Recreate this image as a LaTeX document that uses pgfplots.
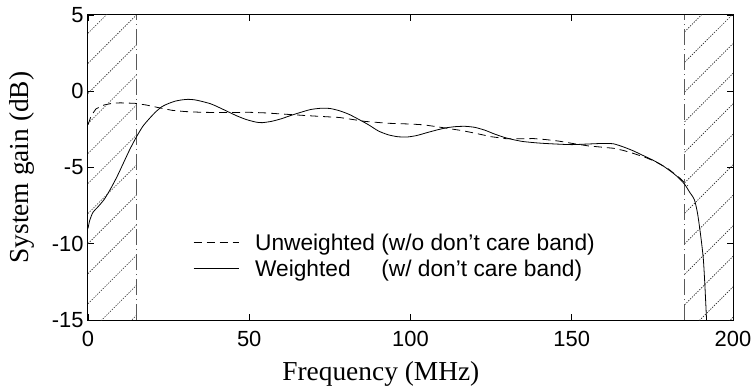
\documentclass[border=0pt]{standalone}
\usepackage{fontspec}
\setmainfont{Liberation Sans}
\newfontfamily\serif{Liberation Serif}
\usepackage{pgfplots}
\pgfplotsset{compat=1.18}
\tikzset{
  hatch/.style={black!85, line width=0.6bp, dash pattern=on 1.3bp off 1.3bp},
  dashdot/.style={gray!70!black, line width=1bp, dash pattern=on 16bp off 4bp on 1bp off 4bp},
}
\begin{document}
\begin{tikzpicture}
\useasboundingbox (-88bp,-71bp) rectangle (668bp,320bp);
\begin{axis}[
  at={(0,0)}, anchor=south west,
  scale only axis, width=645bp, height=305bp,
  xmin=0, xmax=200, ymin=-15, ymax=5,
  xtick={0,50,100,150,200}, xticklabels={0,50,100,150,200},
  ytick={-15,-10,-5,0,5}, yticklabels={-15,-10,-5,0,5},
  tick align=inside, major tick length=6bp,
  tick style={black, line width=0.8bp},
  axis line style={black, line width=1bp},
  ticklabel style={font=\fontsize{22}{26}\selectfont},
  xticklabel style={yshift=-8bp},
  yticklabel style={xshift=-1bp},
  xlabel={Frequency (MHz)},
  ylabel={System gain (dB)},
  xlabel style={font=\serif\fontsize{27.5}{32}\selectfont, at={(rel axis cs:0.454,-0.197)}, anchor=base},
  ylabel style={font=\serif\fontsize{27.5}{32}\selectfont, at={(rel axis cs:-0.103,0.5)}, anchor=center, rotate=0},
  legend style={draw=none, fill=none, at={(rel axis cs:0.163,0.29)}, anchor=north west,
    font=\fontsize{22.8}{26}\selectfont, inner sep=0pt, row sep=4bp, column sep=14bp},
  legend cell align=left,
  legend image code/.code={\draw[#1] (0bp,0bp) -- (45bp,0bp);},
]
% hatching (decoration)
\pgfplotsinvokeforeach{3.8,1.83,-0.14,-2.11,-4.08,-6.05,-8.02,-9.99,-11.96,-13.93,-15.9,-17.87}{
  \draw[hatch] (axis cs:0,#1) -- (axis cs:15,{#1+3.17});
}
\pgfplotsinvokeforeach{3.9,1.9,-0.05,-2.0,-4.0,-6.0,-8.0,-10.0,-12.0,-14.0,-16.0,-18.0}{
  \draw[hatch] (axis cs:185,#1) -- (axis cs:200,{#1+3.17});
}
\draw[dashdot] (axis cs:15,-15) -- (axis cs:15,5);
\draw[dashdot] (axis cs:185,-15) -- (axis cs:185,5);

\addplot[black, line width=0.8bp, dash pattern=on 8bp off 5bp] coordinates {
(0,-2.2) (1,-1.6) (2.5,-1.15) (5,-0.9) (7.5,-0.79) (10,-0.76) (14.5,-0.79)
(18,-0.9) (22,-1.08) (26,-1.25) (30,-1.33) (35,-1.38) (42,-1.4) (50,-1.38)
(55,-1.42) (60,-1.49) (68,-1.6) (78,-1.72) (86,-1.98) (93,-2.1) (100,-2.15)
(104,-2.2) (108,-2.32) (112,-2.45) (116,-2.58) (120,-2.75) (125,-2.98)
(130,-3.12) (135,-3.12) (138,-3.1) (142,-3.17) (146,-3.27) (151,-3.45)
(155,-3.58) (160,-3.68) (163,-3.74) (166,-3.88) (169,-4.07) (173,-4.35)
(176,-4.62) (180,-5.1) (183.6,-5.71) (186,-6.2)
};
\addlegendentry{Unweighted (w/o don't care band)}

\addplot[black, line width=0.8bp, smooth, tension=0.4] coordinates {
(0,-9.0) (0.5,-8.5) (1.5,-7.95) (3,-7.6) (5,-7.1) (7,-6.4) (9,-5.6) (11,-4.7)
(13,-3.8) (15,-3.0) (17,-2.3) (19,-1.8) (21,-1.35) (23,-1.0) (25,-0.8)
(27,-0.65) (29,-0.57) (31,-0.53) (33,-0.56) (35,-0.65) (38,-0.82) (40,-1.0)
(43,-1.3) (46,-1.6) (49,-1.85) (52,-2.02) (54,-2.06) (57,-1.97) (60,-1.8)
(63,-1.58) (66,-1.38) (69,-1.2) (72,-1.12) (75,-1.13) (78,-1.28) (81,-1.52)
(84,-1.85) (87,-2.2) (90,-2.6) (93,-2.85) (96,-2.98) (99,-3.0) (102,-2.9)
(105,-2.72) (108,-2.55) (111,-2.4) (114,-2.32) (117,-2.3) (120,-2.37)
(123,-2.55) (126,-2.8) (129,-3.02) (132,-3.18) (135,-3.3) (140,-3.4)
(145,-3.46) (150,-3.5) (155,-3.46) (160,-3.42) (163,-3.45) (166,-3.65)
(169,-3.9) (172,-4.2) (175,-4.5) (178,-4.85) (181,-5.3) (183,-5.65)
(185,-6.1) (186.5,-6.6) (188,-7.1) (189,-8.0) (190,-9.5) (190.8,-11.0)
(191.3,-12.8) (191.8,-15)
};
\addlegendentry{\rlap{Weighted}\hphantom{Unweighted} (w/ don't care band)}
\end{axis}
\end{tikzpicture}
\end{document}
